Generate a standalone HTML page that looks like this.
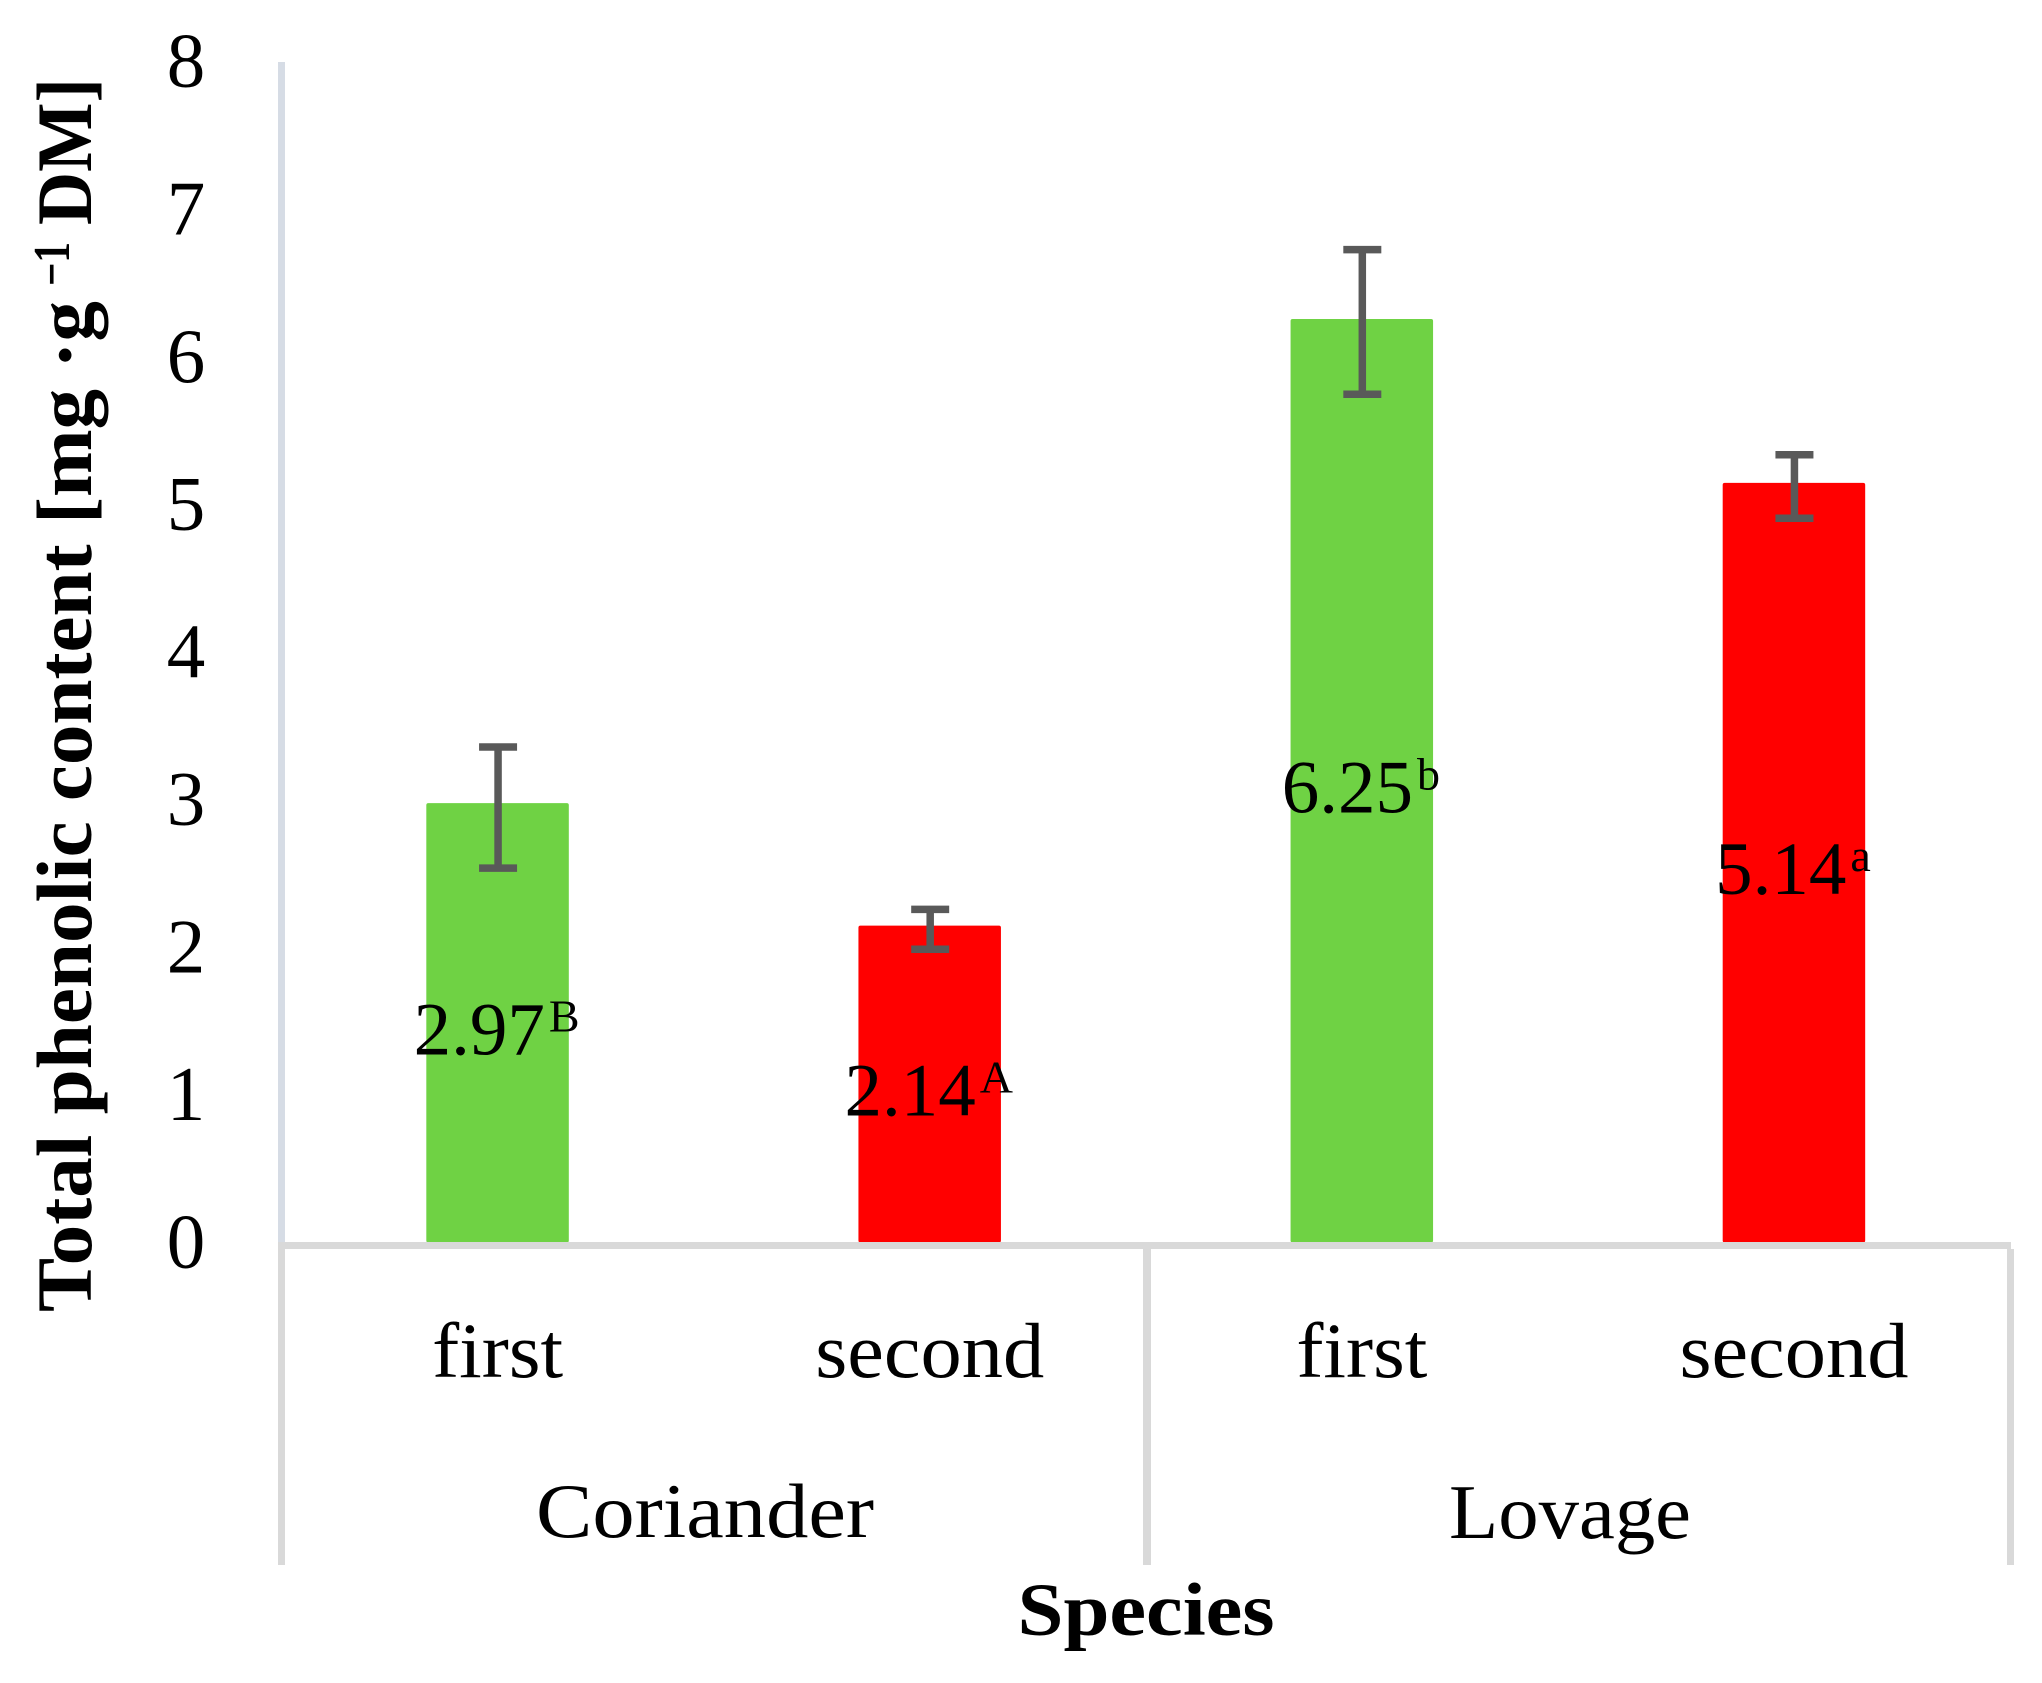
<!DOCTYPE html>
<html lang="en">
<head>
<meta charset="utf-8">
<title>Total phenolic content by species</title>
<style>
html,body{margin:0;padding:0;background:#fff;}
svg{display:block;font-family:"Liberation Serif",serif;fill:#000;}
</style>
</head>
<body>
<svg id="chart" xmlns="http://www.w3.org/2000/svg" width="2042" height="1683" viewBox="0 0 2042 1683">
  <rect x="0" y="0" width="2042" height="1683" fill="#ffffff"/>
  <rect x="278" y="62" width="7" height="1180" fill="#D6DCE5"/>
  <rect x="278" y="1242" width="7" height="323" fill="#D9D9D9"/>
  <rect x="1143" y="1249" width="8" height="316" fill="#D9D9D9"/>
  <rect x="2007" y="1249" width="7" height="316" fill="#D9D9D9"/>
  <g id="bars"></g>
  <rect x="285" y="1242" width="1726" height="7" fill="#D9D9D9"/>
  <g id="errors"></g>
  <g id="ticks"></g>
  <g id="values"></g>
  <g id="cats"></g>
  <text x="705" y="1537" text-anchor="middle" font-size="77" textLength="338" lengthAdjust="spacingAndGlyphs">Coriander</text>
  <text x="1570" y="1538" text-anchor="middle" font-size="77" textLength="242" lengthAdjust="spacingAndGlyphs">Lovage</text>
  <text x="1146" y="1635" text-anchor="middle" font-size="75" font-weight="bold" textLength="257" lengthAdjust="spacingAndGlyphs">Species</text>
  <g transform="translate(91,1312) rotate(-90)" font-weight="bold">
    <text x="0" y="0" font-size="78" textLength="1011" lengthAdjust="spacingAndGlyphs">Total phenolic content [mg ·g</text>
    <text x="1026" y="-22" font-size="52" textLength="44" lengthAdjust="spacingAndGlyphs">−1</text>
    <text x="1087" y="0" font-size="78" textLength="147" lengthAdjust="spacingAndGlyphs">DM]</text>
  </g>
</svg>
<script>
const categories = ["first", "second", "first", "second"];
const species = ["Coriander", "Coriander", "Lovage", "Lovage"];
const values = [2.97, 2.14, 6.25, 5.14];
const errorHigh = [3.35, 2.25, 6.72, 5.33];
const errorLow = [2.53, 1.98, 5.74, 4.90];
const letters = ["B", "A", "b", "a"];
const tickValues = [0, 1, 2, 3, 4, 5, 6, 7, 8];

const NS = "http://www.w3.org/2000/svg";
const Y0 = 1241.5, YTOP = 60.7, YMAX = 8;
const XL = 281.5, XR = 2010;
const BAR_W = 142.5, CAP_W = 38;
const colors = ["#6FD244", "#FF0000"];

function yScale(v) { return Y0 - (v / YMAX) * (Y0 - YTOP); }
function xScale(i) { return XL + (i + 0.5) * (XR - XL) / categories.length; }
function make(tag, attrs) {
  const el = document.createElementNS(NS, tag);
  for (const k in attrs) el.setAttribute(k, attrs[k]);
  return el;
}

const barsG = document.getElementById("bars");
const errG = document.getElementById("errors");
const ticksG = document.getElementById("ticks");
const valuesG = document.getElementById("values");
const catsG = document.getElementById("cats");

values.forEach(function (v, i) {
  const cx = xScale(i);
  const top = yScale(v);
  const bar = make("rect", { x: cx - BAR_W / 2, y: top, width: BAR_W, height: Y0 - top + 1, rx: 2, fill: colors[i % 2] });
  
  
  barsG.appendChild(bar);

  const hi = yScale(errorHigh[i]);
  const lo = yScale(errorLow[i]);
  const eb = make("path", {
    d: "M" + (cx + 0.5) + " " + hi + "V" + lo +
       "M" + (cx + 0.5 - CAP_W / 2) + " " + hi + "H" + (cx + 0.5 + CAP_W / 2) +
       "M" + (cx + 0.5 - CAP_W / 2) + " " + lo + "H" + (cx + 0.5 + CAP_W / 2),
    stroke: "#595959", "stroke-width": 7.5, fill: "none"
  });
  
  
  errG.appendChild(eb);

  const t = make("text", { x: cx - 1, y: yScale(v / 2) + 32, "text-anchor": "middle", "font-size": 75 });
  
  
  t.appendChild(document.createTextNode(v.toFixed(2)));
  const sup = make("tspan", { "font-size": 46, dy: -23, dx: 4 });
  sup.textContent = letters[i];
  t.appendChild(sup);
  valuesG.appendChild(t);

  const c = make("text", { x: cx, y: 1377, "text-anchor": "middle", "font-size": 78, "data-species": species[i] });
  
  
  c.textContent = categories[i];
  if (categories[i] === "second") { c.setAttribute("textLength", 229); c.setAttribute("lengthAdjust", "spacingAndGlyphs"); }
  else { c.setAttribute("textLength", 131); c.setAttribute("lengthAdjust", "spacingAndGlyphs"); }
  catsG.appendChild(c);
});

tickValues.forEach(function (v) {
  const t = make("text", { x: 186, y: yScale(v) + 26, "text-anchor": "middle", "font-size": 77 });
  
  
  t.textContent = String(v);
  ticksG.appendChild(t);
});
</script>
</body>
</html>
